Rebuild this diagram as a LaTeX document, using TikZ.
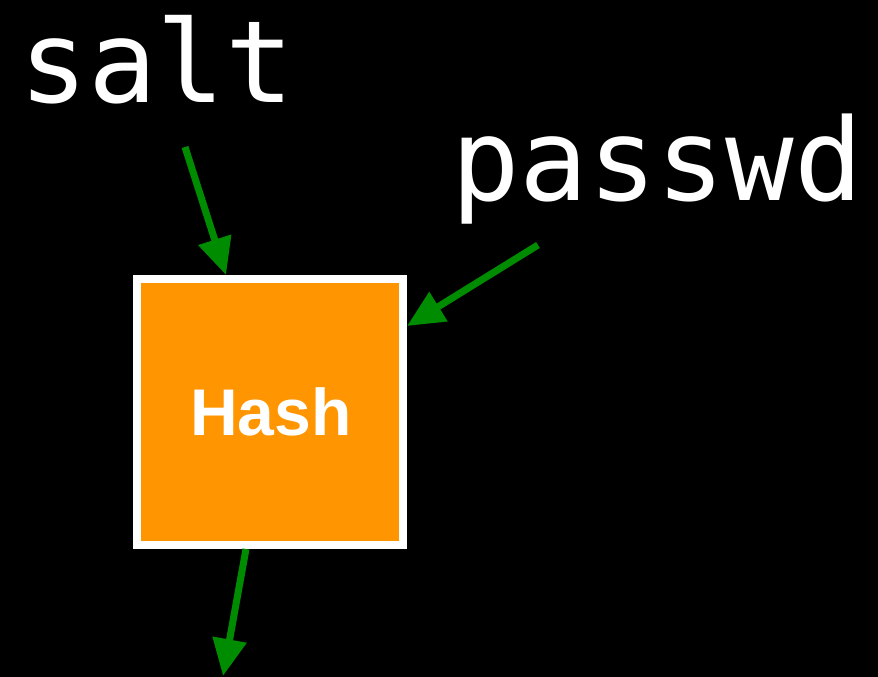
\documentclass[tikz,border=0pt]{standalone}
\usepackage{fontspec}
\setmainfont{Liberation Sans}
\newfontfamily\monofont{DejaVu Sans Mono}
\usetikzlibrary{arrows.meta}

\definecolor{hashorange}{RGB}{255,149,0}
\definecolor{flowgreen}{RGB}{0,140,0}

\tikzset{
  label text/.style={text=white, inner sep=0pt, anchor=base,
    font=\monofont\fontsize{114}{114}\selectfont},
  hashbox/.style={draw=white, fill=hashorange, line width=8pt,
    minimum size=266pt, inner sep=0pt},
  hash text/.style={text=white, inner sep=0pt, anchor=base,
    font=\bfseries\fontsize{66}{66}\selectfont},
  flow/.style={draw=flowgreen, line width=7pt,
    -{Triangle[width=33pt,length=37pt]}}
}

\begin{document}
\begin{tikzpicture}[x=1pt, y=-1pt]
  % canvas
  \fill[black] (0,0) rectangle (878,677);
  \useasboundingbox (0,0) rectangle (878,677);

  % inputs
  \node[label text] (salt) at (157,102) {salt};
  \node[label text] (passwd) at (657,200) {passwd};

  % hash function block
  \node[hashbox] (hash) at (270,412) {};
  \node[hash text] (hashlabel) at (271,435) {Hash};

  % connector end points
  \coordinate (saltstart) at (185,147);
  \coordinate (passwdstart) at (538,245);
  \coordinate (outend) at (223,676);

  % connectors
  \draw[flow] (saltstart) -- ([xshift=-44pt]hash.north);
  \draw[flow] (passwdstart) -- ([yshift=-51pt]hash.north east);
  \draw[flow] ([xshift=-24pt]hash.south) -- (outend);
\end{tikzpicture}
\end{document}
